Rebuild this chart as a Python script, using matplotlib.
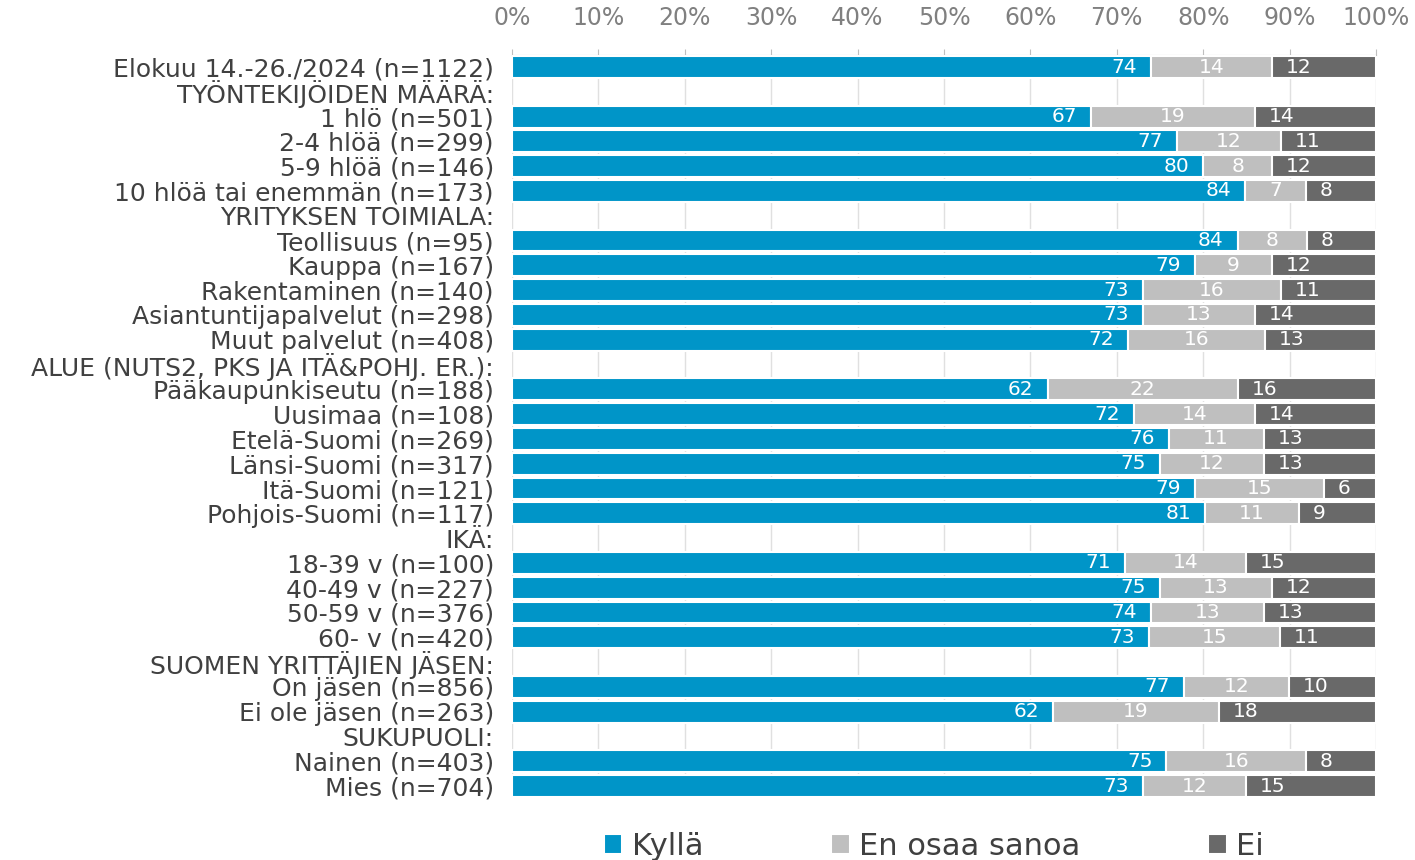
"""
Kyllä / En osaa sanoa / Ei -jakaumat taustaryhmittäin, 100 % pinottu vaakapylväs
"""
import numpy as np
import matplotlib
matplotlib.use('Agg')
import matplotlib.pyplot as plt

# rivit ylhäältä alas, otsikkoriveillä ei arvoja (None)
labels = [
    'Elokuu 14.-26./2024 (n=1122)',
    'TYÖNTEKIJÖIDEN MÄÄRÄ:',
    '1 hlö (n=501)',
    '2-4 hlöä (n=299)',
    '5-9 hlöä (n=146)',
    '10 hlöä tai enemmän (n=173)',
    'YRITYKSEN TOIMIALA:',
    'Teollisuus (n=95)',
    'Kauppa (n=167)',
    'Rakentaminen (n=140)',
    'Asiantuntijapalvelut (n=298)',
    'Muut palvelut (n=408)',
    'ALUE (NUTS2, PKS JA ITÄ&POHJ. ER.):',
    'Pääkaupunkiseutu (n=188)',
    'Uusimaa (n=108)',
    'Etelä-Suomi (n=269)',
    'Länsi-Suomi (n=317)',
    'Itä-Suomi (n=121)',
    'Pohjois-Suomi (n=117)',
    'IKÄ:',
    '18-39 v (n=100)',
    '40-49 v (n=227)',
    '50-59 v (n=376)',
    '60- v (n=420)',
    'SUOMEN YRITTÄJIEN JÄSEN:',
    'On jäsen (n=856)',
    'Ei ole jäsen (n=263)',
    'SUKUPUOLI:',
    'Nainen (n=403)',
    'Mies (n=704)',
]

kylla = [74, None, 67, 77, 80, 84, None, 84, 79, 73, 73, 72, None, 62, 72, 76, 75, 79, 81,
         None, 71, 75, 74, 73, None, 77, 62, None, 75, 73]
eos = [14, None, 19, 12, 8, 7, None, 8, 9, 16, 13, 16, None, 22, 14, 11, 12, 15, 11,
       None, 14, 13, 13, 15, None, 12, 19, None, 16, 12]
ei = [12, None, 14, 11, 12, 8, None, 8, 12, 11, 14, 13, None, 16, 14, 13, 13, 6, 9,
      None, 15, 12, 13, 11, None, 10, 18, None, 8, 15]

series = ['Kyllä', 'En osaa sanoa', 'Ei']
colors = ['#0095C8', '#BFBFBF', '#696969']

fig = plt.figure(figsize=(14.15, 8.6), dpi=100)
ax = fig.add_axes([0.3618, 0.0716, 0.6106, 0.8649])

y = np.arange(len(labels))
rows = [i for i in range(len(labels)) if kylla[i] is not None]
vals = np.array([[kylla[i], eos[i], ei[i]] for i in rows], dtype=float)
shares = vals / vals.sum(axis=1, keepdims=True) * 100

left = np.zeros(len(rows))
for j, name in enumerate(series):
    bars = ax.barh(y[rows], shares[:, j], left=left, height=0.88, color=colors[j],
                   edgecolor='white', linewidth=1.5, label=name, zorder=3)
    for k, b in enumerate(bars):
        txt = '%d' % vals[k, j]
        yc = b.get_y() + b.get_height() / 2
        if j == 0:
            ax.annotate(txt, (b.get_x() + b.get_width(), yc), xytext=(-10, 0),
                        textcoords='offset points', ha='right', va='center',
                        color='white', fontsize=14.5, zorder=4)
        elif j == 1:
            ax.annotate(txt, (b.get_x() + b.get_width() / 2, yc), xytext=(0, 0),
                        textcoords='offset points', ha='center', va='center',
                        color='white', fontsize=14.5, zorder=4)
        else:
            ax.annotate(txt, (b.get_x(), yc), xytext=(10, 0),
                        textcoords='offset points', ha='left', va='center',
                        color='white', fontsize=14.5, zorder=4)
    left += shares[:, j]

ax.set_xlim(0, 100)
ax.set_ylim(len(labels) - 0.5, -0.5)
ax.set_yticks(y)
ax.set_yticklabels(labels, fontsize=18, color='#404040')
ax.tick_params(axis='y', length=0, pad=13)

ax.xaxis.tick_top()
ax.set_xticks(np.arange(0, 101, 10))
ax.set_xticklabels(['%d%%' % v for v in range(0, 101, 10)], fontsize=17, color='#808080')
ax.tick_params(axis='x', length=4, color='#BFBFBF', pad=14)
ax.grid(axis='x', color='#E0E0E0', linewidth=1, zorder=0)

for s in ['left', 'right', 'bottom']:
    ax.spines[s].set_visible(False)
ax.spines['top'].set_color('#BFBFBF')

fig.legend(loc='center', bbox_to_anchor=(0.66, 0.016), ncol=3, frameon=False,
           fontsize=22, handlelength=0.6, handleheight=0.6, handletextpad=0.3,
           columnspacing=4.2, labelcolor='#404040')

fig.savefig('out.png', dpi=100)
